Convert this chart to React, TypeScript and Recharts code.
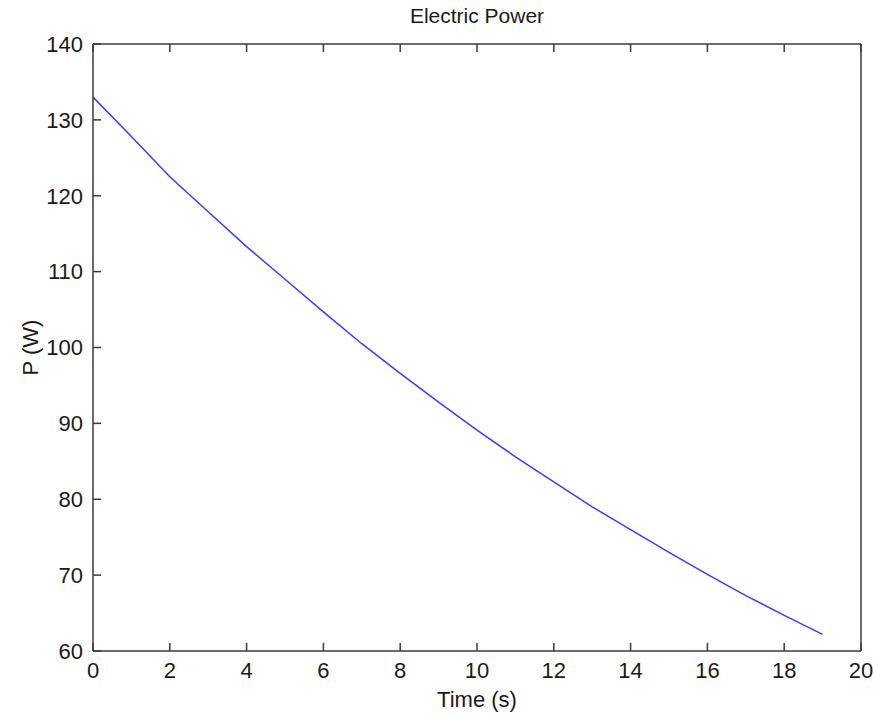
import { LineChart, Line, XAxis, YAxis } from 'recharts';

// values
const time = [0, 1, 2, 3, 4, 5, 6, 7, 8, 9, 10, 11, 12, 13, 14, 15, 16, 17, 18, 19];
const power = [133.0, 127.8, 122.5, 117.9, 113.3, 109.0, 104.7, 100.5, 96.6, 92.8, 89.1, 85.6, 82.3, 79.0, 76.0, 73.0, 70.1, 67.3, 64.7, 62.2];

const xTicks = [0, 2, 4, 6, 8, 10, 12, 14, 16, 18, 20];
const yTicks = [60, 70, 80, 90, 100, 110, 120, 130, 140];

const data = time.map((t, i) => ({ t, p: power[i] }));

const axisColor = '#3a3a3a';
const font = '"Liberation Sans", Arial, sans-serif';
const tickStyle = { fontSize: 22, fill: '#1a1a1a', fontFamily: font };
const labelStyle = { fontSize: 22, fill: '#1a1a1a', fontFamily: font };

// top and right axes only need their tick marks, no labels
const NoLabel = () => <g />;

export default function App() {
  return (
    <div style={{ position: 'absolute', left: 0, top: 0, background: '#fff' }}>
      <LineChart
        width={873}
        height={715}
        data={data}
        margin={{ top: 4, right: 2, left: 33, bottom: 14 }}
      >
        <XAxis
          dataKey="t"
          type="number"
          domain={[0, 20]}
          ticks={xTicks}
          interval={0}
          tickSize={-8}
          tickMargin={19}
          height={50}
          stroke={axisColor}
          strokeWidth={1.5}
          tick={tickStyle}
          label={{ value: 'Time (s)', position: 'insideBottom', offset: -6, style: labelStyle }}
        />
        <XAxis
          xAxisId="top"
          orientation="top"
          dataKey="t"
          type="number"
          domain={[0, 20]}
          ticks={xTicks}
          interval={0}
          tickSize={-8}
          height={40}
          tick={<NoLabel />}
          stroke={axisColor}
          strokeWidth={1.5}
          label={{ value: 'Electric Power', position: 'insideTop', offset: 4, style: { ...labelStyle, fontSize: 21 } }}
        />
        <YAxis
          type="number"
          domain={[60, 140]}
          ticks={yTicks}
          interval={0}
          tickSize={-8}
          tickMargin={18}
          width={60}
          stroke={axisColor}
          strokeWidth={1.5}
          tick={tickStyle}
          label={{ value: 'P (W)', angle: -90, position: 'insideLeft', offset: -3, style: { ...labelStyle, textAnchor: 'middle' } }}
        />
        <YAxis
          yAxisId="right"
          orientation="right"
          type="number"
          domain={[60, 140]}
          ticks={yTicks}
          interval={0}
          tickSize={-8}
          width={10}
          tick={<NoLabel />}
          stroke={axisColor}
          strokeWidth={1.5}
        />
        <Line
          type="linear"
          dataKey="p"
          stroke="#3b3bff"
          strokeWidth={1.5}
          dot={false}
          isAnimationActive={false}
        />
      </LineChart>
    </div>
  );
}
